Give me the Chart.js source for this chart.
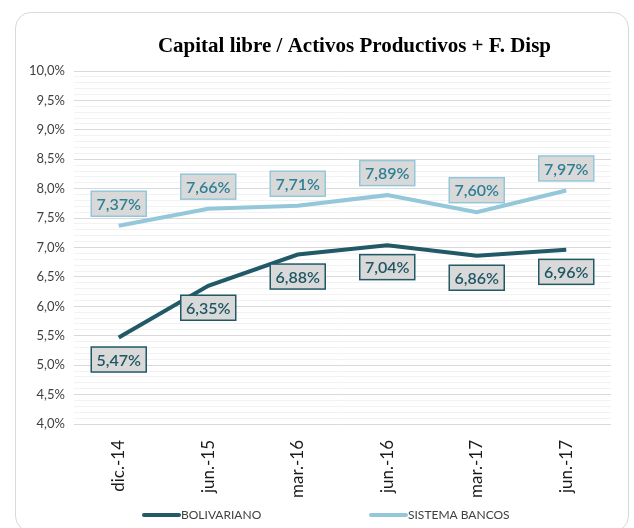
<!DOCTYPE html>
<html>
<head>
<meta charset="utf-8">
<script src="https://cdn.jsdelivr.net/npm/chart.js@4.4.0/dist/chart.umd.min.js"></script>
<style>
  html, body { margin: 0; padding: 0; background: #fff; }
  #wrap { position: relative; width: 634px; height: 528px; }
  #card {
    position: absolute; left: 15px; top: 12px; width: 614px; height: 520px;
    border: 1px solid #d9d9d9; border-radius: 16px; box-sizing: border-box;
  }
  canvas { position: absolute; left: 0; top: 0; }
</style>
</head>
<body>
<div id="wrap">
  <div id="card"></div>
  <canvas id="capChart" width="634" height="528"></canvas>
</div>
<script>
const title = "Capital libre / Activos Productivos + F. Disp";
const labels = ["dic.-14", "jun.-15", "mar.-16", "jun.-16", "mar.-17", "jun.-17"];
const bolivariano = [5.47, 6.35, 6.88, 7.04, 6.86, 6.96];
const sistemaBancos = [7.37, 7.66, 7.71, 7.89, 7.60, 7.97];

const darkTeal = "#215967";
const lightBlue = "#93c7d9";
const FONT = "Lato, 'Open Sans', sans-serif";

const fmt = v => v.toFixed(2).replace(".", ",") + "%";

// boxed value labels, like the excel data labels
const valueBoxes = {
  id: "valueBoxes",
  afterDatasetsDraw(chart) {
    const ctx = chart.ctx;
    ctx.save();
    ctx.font = "600 16px " + FONT;
    ctx.textAlign = "center";
    ctx.textBaseline = "middle";
    chart.data.datasets.forEach((ds, i) => {
      const meta = chart.getDatasetMeta(i);
      meta.data.forEach((pt, j) => {
        const cy = pt.y + ds.labelOffset;
        const w = 55, h = 25;
        ctx.fillStyle = "#d9d9d9";
        ctx.fillRect(pt.x - w / 2, cy - h / 2, w, h);
        ctx.lineWidth = 1.5;
        ctx.strokeStyle = ds.borderColor;
        ctx.strokeRect(pt.x - w / 2, cy - h / 2, w, h);
        ctx.fillStyle = ds.labelColor;
        ctx.fillText(fmt(ds.data[j]), pt.x, cy + 1);
      });
    });
    ctx.restore();
  }
};

// title and legend drawn by hand so they sit where the original has them
const decorations = {
  id: "decorations",
  afterDraw(chart) {
    const ctx = chart.ctx;
    const a = chart.chartArea;
    ctx.save();
    ctx.fillStyle = "#000";
    ctx.font = "bold 21px 'Liberation Serif', serif";
    ctx.textAlign = "center";
    ctx.textBaseline = "middle";
    ctx.fillText(title, (a.left + a.right) / 2 + 12, 47);

    ctx.font = "12px " + FONT;
    ctx.textAlign = "left";
    ctx.fillStyle = "#404040";
    const items = [[chart.data.datasets[0], 144], [chart.data.datasets[1], 371]];
    items.forEach(([ds, x]) => {
      ctx.strokeStyle = ds.borderColor;
      ctx.lineWidth = 4;
      ctx.lineCap = "round";
      ctx.beginPath();
      ctx.moveTo(x, 515);
      ctx.lineTo(x + 35, 515);
      ctx.stroke();
      ctx.fillText(ds.label, x + 37, 515);
    });
    ctx.restore();
  }
};

new Chart(document.getElementById("capChart"), {
  type: "line",
  data: {
    labels,
    datasets: [
      {
        label: "BOLIVARIANO",
        data: bolivariano,
        borderColor: darkTeal,
        backgroundColor: darkTeal,
        borderWidth: 4,
        pointRadius: 0,
        tension: 0,
        labelOffset: 22,
        labelColor: "#1f5664"
      },
      {
        label: "SISTEMA BANCOS",
        data: sistemaBancos,
        borderColor: lightBlue,
        backgroundColor: lightBlue,
        borderWidth: 4,
        pointRadius: 0,
        tension: 0,
        labelOffset: -22,
        labelColor: "#2e7f95"
      }
    ]
  },
  options: {
    responsive: false,
    animation: false,
    layout: { padding: { left: 20, right: 23, top: 71, bottom: 22 } },
    plugins: {
      legend: { display: false },
      title: { display: false },
      tooltip: { enabled: false }
    },
    scales: {
      x: {
        offset: true,
        grid: { display: false },
        border: { display: false },
        ticks: {
          minRotation: 90,
          maxRotation: 90,
          padding: 8,
          color: "#1a1a1a",
          font: { family: FONT, size: 17 }
        }
      },
      y: {
        min: 4,
        max: 10,
        border: { display: false },
        grid: {
          drawTicks: false,
          color: c => {
            const v = c.tick.value * 2;
            return Math.abs(v - Math.round(v)) < 1e-6 ? "#d9d9d9" : "#f2f2f2";
          }
        },
        ticks: {
          stepSize: 0.1,
          autoSkip: false,
          padding: 9,
          color: "#404040",
          font: { family: FONT, size: 13 },
          callback: v => {
            const d = v * 2;
            return Math.abs(d - Math.round(d)) < 1e-6 ? v.toFixed(1).replace(".", ",") + "%" : "";
          }
        }
      }
    }
  },
  plugins: [valueBoxes, decorations]
});
</script>
</body>
</html>
